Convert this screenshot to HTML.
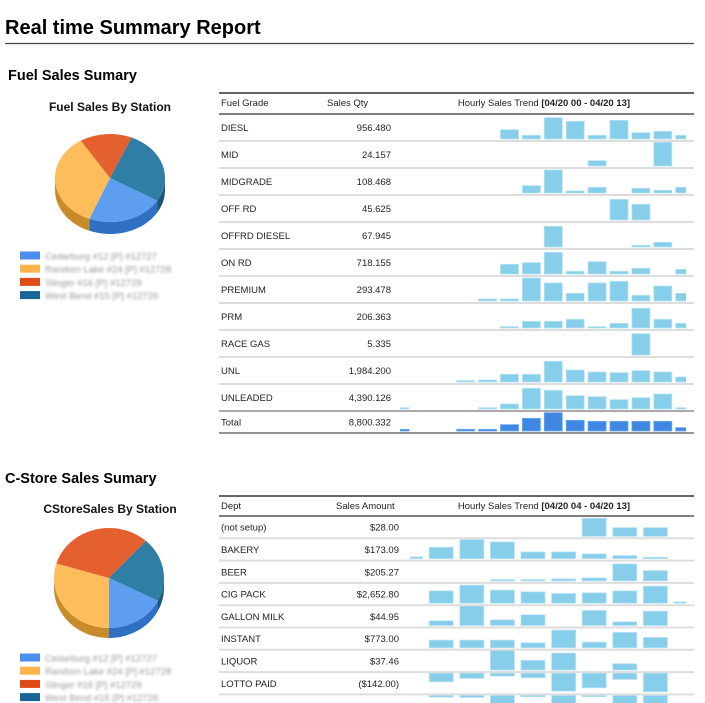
<!DOCTYPE html>
<html><head><meta charset="utf-8">
<style>
html,body{margin:0;padding:0;background:#fff;width:705px;height:703px;overflow:hidden}
svg{display:block;font-family:"Liberation Sans",Arial,sans-serif}
.blur{filter:blur(1.3px)}
</style></head>
<body>
<svg id="page" width="705" height="703" viewBox="0 0 705 703">
<defs>
  <clipPath id="fuelClip"><rect x="400" y="114" width="286" height="320"/></clipPath>
  <clipPath id="cClip"><rect x="410" y="516" width="276" height="190"/></clipPath>
</defs>
<text x="5" y="34" font-size="20" font-weight="bold" fill="#000">Real time Summary Report</text>
<line x1="5" y1="43.5" x2="694" y2="43.5" stroke="#444" stroke-width="1.2"/>
<text x="8" y="80" font-size="14.5" font-weight="bold" fill="#000">Fuel Sales Sumary</text>
<text x="5" y="483" font-size="14.5" font-weight="bold" fill="#000">C-Store Sales Sumary</text>
<text x="110" y="111" font-size="12" font-weight="bold" text-anchor="middle" fill="#111">Fuel Sales By Station</text>
<text x="110" y="513" font-size="12" font-weight="bold" text-anchor="middle" fill="#111">CStoreSales By Station</text>
<g id="fuelPie"></g>
<g id="cPie"></g>
<g id="fuelLegend"></g>
<g id="cLegend"></g>
<g id="fuelTable"></g>
<g id="cTable"></g>
</svg>
<script>
const stations = ["Cedarburg #12 [P] #12727","Random Lake #24 [P] #12728","Slinger #16 [P] #12729","West Bend #15 [P] #12726"];
const fuelPieValues = [22.5, 35, 15.3, 27.2];
const cPieValues = [17.5, 29.7, 32, 20.8];
const fuelGrades = ["DIESL","MID","MIDGRADE","OFF RD","OFFRD DIESEL","ON RD","PREMIUM","PRM","RACE GAS","UNL","UNLEADED","Total"];
const fuelQty = ["956.480","24.157","108.468","45.625","67.945","718.155","293.478","206.363","5.335","1,984.200","4,390.126","8,800.332"];
const fuelTrend = [
 [0,0,0,0,0,28,11,64,53,11,56,19,23,11],
 [0,0,0,0,0,0,0,0,0,16,0,0,71,0],
 [0,0,0,0,0,0,22,69,6,17,0,14,8,17],
 [0,0,0,0,0,0,0,0,0,0,62,47,0,0],
 [0,0,0,0,0,0,0,62,0,0,0,5,14,0],
 [0,0,0,0,0,29,34,65,8,37,8,17,0,14],
 [0,0,0,0,6,6,69,54,23,54,59,17,45,23],
 [0,0,0,0,0,4,20,20,26,4,14,59,26,14],
 [0,0,0,0,0,0,0,0,0,0,0,64,0,0],
 [0,0,0,4,6,23,23,62,36,30,28,34,30,15],
 [4,0,0,0,4,15,62,56,40,37,28,34,45,4],
 [5,0,0,5,5,19,38,55,32,29,29,29,29,10]
];
const depts = ["(not setup)","BAKERY","BEER","CIG PACK","GALLON MILK","INSTANT","LIQUOR","LOTTO PAID",""];
const deptAmount = ["$28.00","$173.09","$205.27","$2,652.80","$44.95","$773.00","$37.46","($142.00)",""];
const deptTrend = [
 [0,0,0,0,0,0,54,26,26,0],
 [5,34,57,50,20,20,14,9,4,0],
 [0,0,0,4,4,6,9,51,31,0],
 [0,37,54,39,34,29,31,37,51,4],
 [0,14,60,17,32,0,45,11,43,0],
 [0,23,23,23,15,53,17,46,31,0],
 [0,0,0,60,29,51,0,19,0,0],
 [0,-26,-16,-9,-14,-54,-44,-19,-56,0],
 [0,-5,-6,-30,-4,-40,-4,-30,-40,0]
];
const pieColors = ["#5d9ef0","#fdbd5a","#e5602f","#2e7ea6"];
const sideColors = ["#2f6fc4","#c98a2a","#b54218","#1c5575"];
const legendColors = ["#4a8ff0","#fdb54a","#e04a15","#1a6496"];
const NS = "http://www.w3.org/2000/svg";
function mk(tag, attrs, parent){const e=document.createElementNS(NS,tag);for(const k in attrs)e.setAttribute(k,attrs[k]);parent.appendChild(e);return e;}

function drawPie(g, values, cx, cy, rx, ry, depth, startDeg){
  const total = values.reduce((a,b)=>a+b,0);
  const angles=[]; let a=startDeg;
  values.forEach(v=>{const s=a; a+=v/total*360; angles.push([s,a]);});
  const P=(d,dy)=>[cx+rx*Math.cos(d*Math.PI/180), cy+dy+ry*Math.sin(d*Math.PI/180)];
  // sides (only visible for angles 0..180 mod 360)
  angles.forEach(([s,e],i)=>{
    for(let off=-360; off<=360; off+=360){
      const s2=Math.max(s+off,0), e2=Math.min(e+off,180);
      if(e2<=s2) continue;
      const p1=P(s2,0),p2=P(e2,0),p3=P(e2,depth),p4=P(s2,depth);
      const side=mk("path",{d:`M${p1} A${rx},${ry} 0 0 1 ${p2} L${p3} A${rx},${ry} 0 0 0 ${p4} Z`,fill:sideColors[i]},g);
      
      
    }
  });
  angles.forEach(([s,e],i)=>{
    const p1=P(s,0),p2=P(e,0);
    const large=(e-s)>180?1:0;
    const sl=mk("path",{d:`M${cx},${cy} L${p1} A${rx},${ry} 0 ${large} 1 ${p2} Z`,fill:pieColors[i]},g);
    
    
  });
}
drawPie(document.getElementById("fuelPie"), fuelPieValues, 110, 178, 55, 44, 12, 31);
drawPie(document.getElementById("cPie"), cPieValues, 109, 578, 55, 50, 10, 27);

function drawLegend(g, y0){
  stations.forEach((s,i)=>{
    const y=y0+i*13.2;
    const r=mk("rect",{x:20,y:y,width:20,height:8,fill:legendColors[i]},g);
    
    
    const t=mk("text",{x:45,y:y+8,"font-size":"9.5",fill:"#999",class:"blur"},g);
    t.textContent=s;
    
    
  });
}
drawLegend(document.getElementById("fuelLegend"), 251.5);
drawLegend(document.getElementById("cLegend"), 653.5);

function drawTable(g, opt){
  const {top, headH, rowH, labels, values, trend, h1, h2, h2x, h3, barX0, barStep, barW, clip, totalIdx} = opt;
  const x1=219, x2=694;
  const hb=top+headH;
  let l=mk("line",{x1:x1,y1:top,x2:x2,y2:top,stroke:"#333","stroke-width":1.5},g);
   
  l=mk("line",{x1:x1,y1:hb,x2:x2,y2:hb,stroke:"#555","stroke-width":1.5},g);
   
  let t=mk("text",{x:221,y:top+13,"font-size":"9.5",fill:"#222"},g); t.textContent=h1;
   
  t=mk("text",{x:h2x,y:top+13,"font-size":"9.5",fill:"#222"},g); t.textContent=h2;
   
  t=mk("text",{x:544,y:top+13,"font-size":"9.5",fill:"#222","text-anchor":"middle"},g);
  t.innerHTML='Hourly Sales Trend <tspan font-weight="bold">'+h3+'</tspan>';
   
  const bars=mk("g",{"clip-path":`url(#${clip})`},g);
  labels.forEach((lab,r)=>{
    const isTot = r===totalIdx;
    const rt = hb + rowH*r;
    const rh = isTot?22:rowH;
    const rb = rt+rh;
    const sep=mk("line",{x1:x1,y1:rb,x2:x2,y2:rb,stroke:isTot?"#555":"#ddd","stroke-width":isTot?1.2:2},g);
     
    if(r===totalIdx-1){ sep.setAttribute('stroke','#777'); sep.setAttribute('stroke-width','1.2'); }
    const ty = rt + rh/2 + 3.5;
    const a=mk("text",{x:221,y:ty,"font-size":"9.5",fill:"#222"},g); a.textContent=lab;
     
    const b=mk("text",{x:opt.valRight,y:ty,"font-size":"9.5",fill:"#222","text-anchor":"end"},g); b.textContent=values[r];
     
    trend[r].forEach((v,i)=>{
      if(!v) return;
      const h=Math.abs(v)/3;
      const x=barX0+i*barStep;
      const y = v>0 ? rb-2-h : rt+1;
      const bar=mk("rect",{x:x,y:y,width:barW,height:h,fill:isTot?"#3e88e4":"#86ceea",stroke:isTot?"#6aa6ee":"#b5e2f4","stroke-width":0.8},bars);
      
      
    });
  });
}
drawTable(document.getElementById("fuelTable"),{top:93,headH:21,rowH:27,labels:fuelGrades,values:fuelQty,trend:fuelTrend,
  h1:"Fuel Grade",h2:"Sales Qty",h2x:327,h3:"[04/20 00 - 04/20 13]",barX0:391,barStep:21.9,barW:18,clip:"fuelClip",totalIdx:11,valRight:391});
drawTable(document.getElementById("cTable"),{top:496,headH:20,rowH:22.3,labels:depts,values:deptAmount,trend:deptTrend,
  h1:"Dept",h2:"Sales Amount",h2x:336,h3:"[04/20 04 - 04/20 13]",barX0:398.6,barStep:30.6,barW:24,clip:"cClip",totalIdx:-5,valRight:399});
</script>
</body></html>
